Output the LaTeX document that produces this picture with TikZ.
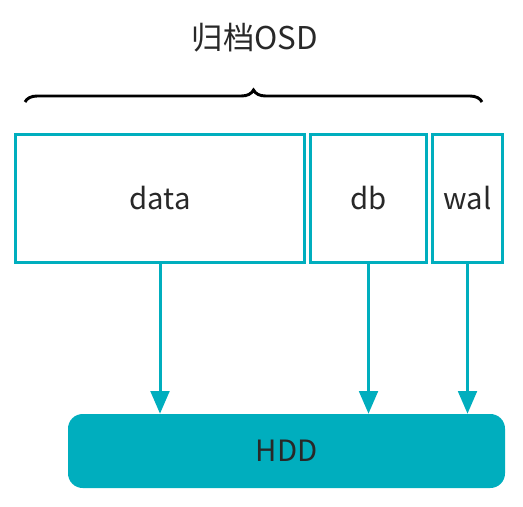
\documentclass[tikz,border=0pt]{standalone}
\usepackage{fontspec}
\setmainfont{Noto Sans CJK SC}
\usetikzlibrary{arrows.meta, decorations.pathreplacing}
\definecolor{osdteal}{RGB}{0,174,190}
\definecolor{osdtext}{RGB}{40,40,40}

\begin{document}
\begin{tikzpicture}[x=0.75pt, y=-0.75pt,
    part/.style={draw=osdteal, line width=2.25pt, fill=white, inner sep=0pt,
      minimum height=96pt, font=\fontsize{22}{26}\selectfont, text=osdtext},
    disk/.style={fill=osdteal, rounded corners=11pt, inner sep=0pt,
      minimum width=327.75pt, minimum height=55.5pt,
      font=\fontsize{22}{26}\selectfont, text=osdtext},
    flow/.style={draw=osdteal, line width=2.25pt, -{Triangle[length=17pt, width=14pt]}}]
            \useasboundingbox (0, 0) rectangle (523, 506);

            \node[font=\fontsize{23.5}{28}\selectfont, text=osdtext] (title) at (255, 38) {归档OSD};
            \coordinate (braceL) at (25, 102);
            \coordinate (braceR) at (482, 102);
            \draw[decorate, decoration={brace, amplitude=9pt}, line width=2.2pt] (braceL) -- (braceR);

            \node[part, minimum width=216.75pt] (data) at (160, 198.5) {data};
            \node[part, minimum width=87pt] (db) at (368.5, 198.5) {db};
            \node[part, minimum width=52.5pt] (wal) at (467.5, 198.5) {wal};

            \node[disk] (hdd) at (286.5, 451) {HDD};

            \draw[flow] (data.south) -- (data.south |- hdd.north);
            \draw[flow] (db.south) -- (db.south |- hdd.north);
            \draw[flow] (wal.south) -- (wal.south |- hdd.north);
        \end{tikzpicture}
\end{document}
